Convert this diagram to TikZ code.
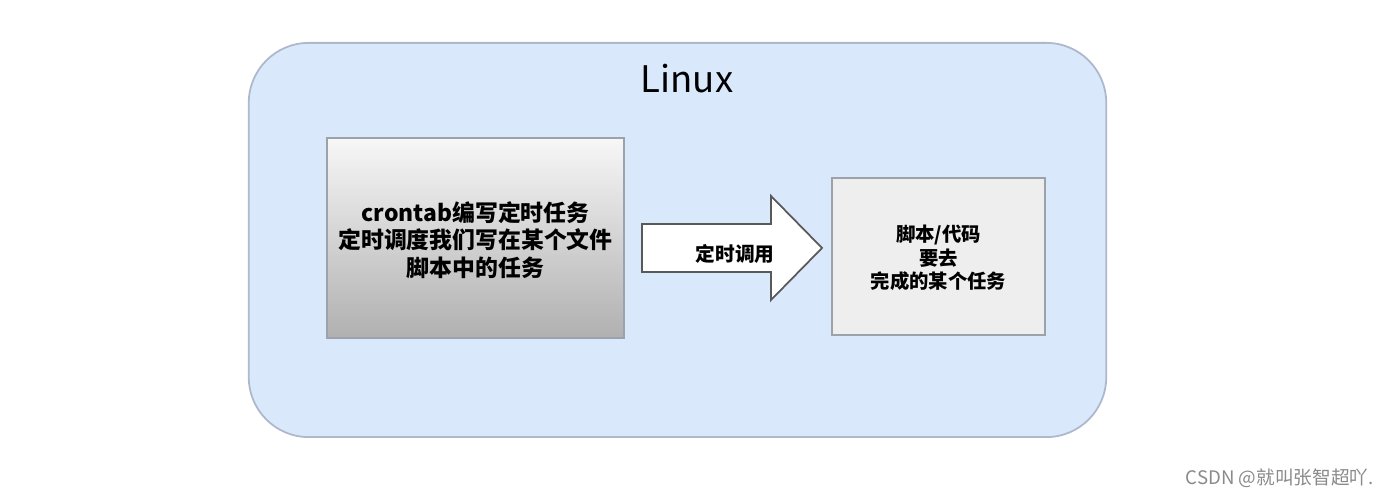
\documentclass[tikz,border=0pt]{standalone}
\usepackage{fontspec}
\setmainfont{Noto Sans CJK SC}
\definecolor{outerfill}{HTML}{DAE8FC}
\definecolor{outerdraw}{HTML}{AEB8CC}
\definecolor{boxdraw}{HTML}{9CA2AA}
\definecolor{rfill}{HTML}{EEEEEE}
\definecolor{gtop}{HTML}{F7F7F7}
\definecolor{gbot}{HTML}{B0B0B0}
\definecolor{wm}{HTML}{8A8A8A}
\tikzset{
  outerbox/.style={draw=outerdraw, fill=outerfill, rounded corners=0.6cm, line width=0.5pt,
    minimum width=8.57cm, minimum height=3.94cm, inner sep=0pt},
  leftbox/.style={draw=boxdraw, top color=gtop, bottom color=gbot, line width=0.5pt,
    minimum width=2.97cm, minimum height=2.00cm, inner sep=0pt, align=center},
  lefttext/.style={align=center, font=\fontsize{6.5}{7.8}\selectfont\bfseries},
  rightbox/.style={draw=boxdraw, fill=rfill, line width=0.5pt,
    minimum width=2.13cm, minimum height=1.57cm, inner sep=0pt},
  righttext/.style={align=center, font=\fontsize{5.5}{6.7}\selectfont\bfseries},
  blockarrow/.style={draw=black!65, fill=white, line width=0.5pt, line join=miter},
}
\begin{document}
\begin{tikzpicture}[x=0.01cm,y=-0.01cm]
\useasboundingbox[fill=white] (0,0) rectangle (1400,498);
\node[outerbox] (outer) at (677.5,240) {};
\node[font=\fontsize{10.4}{12}\selectfont] (title) at (687,79) {Linux};
\node[leftbox] (left) at (475.5,238) {};
\node[lefttext] (lefttxt) at (475.5,240) {crontab编写定时任务\\定时调度我们写在某个文件\\脚本中的任务};
\node[rightbox] (right) at (938.5,256.5) {};
\node[righttext] (righttxt) at (938.5,258) {脚本/代码\\要去\\完成的某个任务};
\coordinate (a1) at (642,224);
\coordinate (a2) at (771,224);
\coordinate (a3) at (771,196);
\coordinate (tip) at (822,248);
\coordinate (a5) at (771,300);
\coordinate (a6) at (771,272);
\coordinate (a7) at (642,272);
\draw[blockarrow] (a1) -- (a2) -- (a3) -- (tip) -- (a5) -- (a6) -- (a7) -- cycle;
\node[font=\fontsize{5.6}{6}\selectfont\bfseries] (lbl) at (735,254) {定时调用};
\node[font=\fontsize{5.3}{6}\selectfont, text=wm, anchor=east] (wmark) at (1386,478) {CSDN @就叫张智超吖.};
\end{tikzpicture}
\end{document}
